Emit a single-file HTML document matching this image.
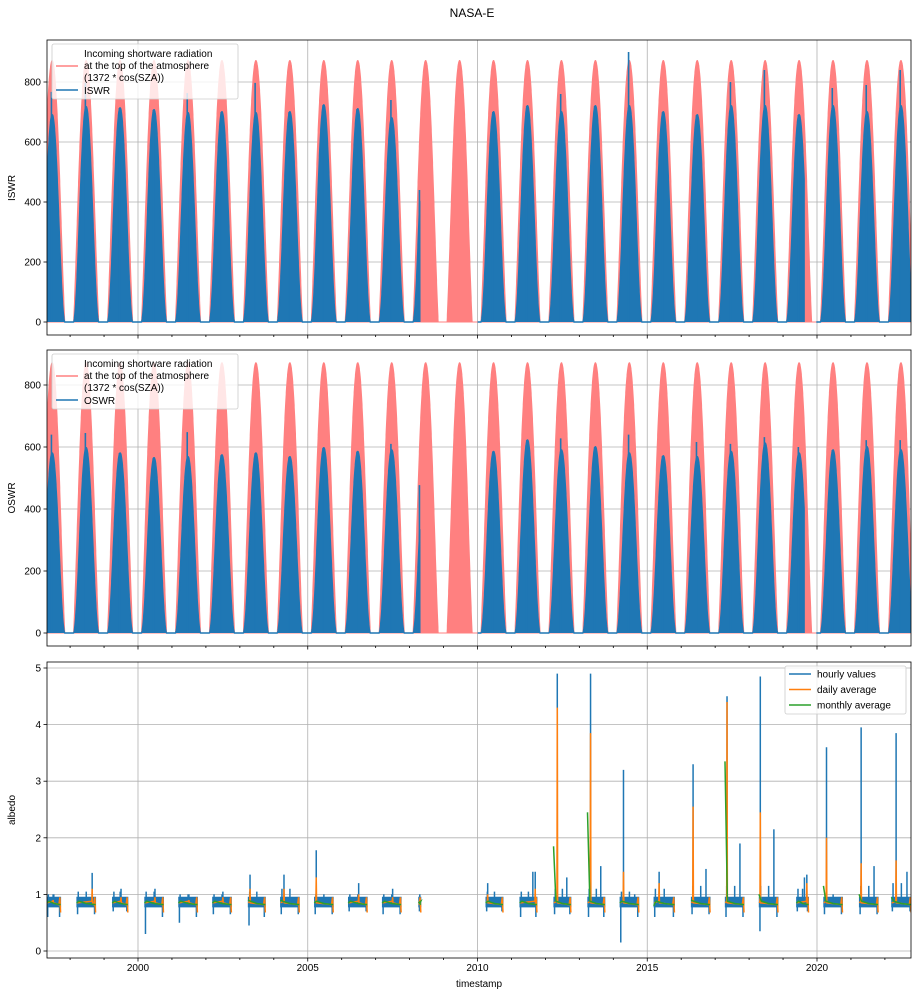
<!DOCTYPE html>
<html><head><meta charset="utf-8">
<style>
body{margin:0;background:#fff;}
svg{display:block;font-family:"Liberation Sans","DejaVu Sans",sans-serif;}
</style></head>
<body>
<svg id="fig" width="918" height="995" viewBox="0 0 918 995" xmlns="http://www.w3.org/2000/svg">
<rect width="918" height="995" fill="#fff"/>
<text x="472" y="17" font-size="12" text-anchor="middle">NASA-E</text>
<defs>
<clipPath id="c1"><rect x="47" y="40" width="864" height="295"/></clipPath>
<clipPath id="c2"><rect x="47" y="350" width="864" height="296"/></clipPath>
<clipPath id="c3"><rect x="47" y="662" width="864" height="296"/></clipPath>
</defs>
<g id="p1"></g>
<g id="p2"></g>
<g id="p3"></g>
<text x="479" y="987" font-size="10" text-anchor="middle">timestamp</text>
</svg>
<script>
// ---- data ----
const seasonYears = [1997,1998,1999,2000,2001,2002,2003,2004,2005,2006,2007,2008,2009,2010,2011,2012,2013,2014,2015,2016,2017,2018,2019,2020,2021,2022];
const iswrPeak  = [690,717,713,707,697,700,697,700,723,710,680,700,0,700,720,700,720,720,700,690,720,720,690,720,700,720];
const iswrSpike = [767,797,713,707,763,700,797,700,723,710,740,440,0,700,720,760,720,900,700,690,800,840,690,780,790,840];
const oswrPeak  = [580,597,580,565,568,574,580,568,597,585,590,580,0,585,622,590,600,580,571,568,585,612,580,590,600,590];
const oswrSpike = [640,645,580,565,648,574,580,568,597,585,610,477,0,585,622,628,600,640,571,616,610,632,600,590,622,622];
const dataGaps = [[2008.3,2010.0],[2019.62,2019.98]];
const tStart = 1997.32, tEnd = 2022.77;

const albYears   = [1997,1998,1999,2000,2001,2002,2003,2004,2005,2006,2007,2008,2010,2011,2012,2013,2014,2015,2016,2017,2018,2019,2020,2021,2022];
const albStart   = [0.32,0.2,0.25,0.2,0.2,0.2,0.25,0.2,0.2,0.2,0.2,0.27,0.25,0.25,0.25,0.25,0.2,0.2,0.3,0.3,0.3,0.4,0.2,0.25,0.2];
const albEnd     = [0.72,0.75,0.7,0.75,0.75,0.75,0.75,0.75,0.75,0.75,0.75,0.33,0.75,0.75,0.75,0.75,0.75,0.8,0.85,0.85,0.85,0.75,0.75,0.8,0.77];
const albHi      = [1.0,1.05,1.05,1.05,1.0,1.0,1.05,1.1,1.0,1.0,1.0,0.95,1.05,1.05,1.1,1.1,1.05,1.1,1.15,1.15,1.15,1.1,1.0,1.15,1.2];
const albLo      = [0.6,0.65,0.7,0.3,0.5,0.65,0.45,0.65,0.65,0.7,0.65,0.7,0.7,0.6,0.65,0.6,0.15,0.6,0.65,0.6,0.35,0.7,0.65,0.65,0.7];
const albSpike   = [1.0,1.38,1.1,1.1,1.0,1.05,1.35,1.35,1.78,1.2,1.1,1.0,1.2,1.4,4.9,4.9,3.2,1.4,3.3,4.5,4.85,1.35,3.6,3.95,3.85];
const albSpikeAt = [0.5,0.65,0.5,0.5,0.5,0.5,0.3,0.3,0.25,0.5,0.5,0.3,0.3,0.7,0.35,0.33,0.3,0.35,0.35,0.35,0.33,0.7,0.28,0.3,0.33];
const albSpike2  = [0,0,0,0,0,0,0,0,0,0,0,0,0,1.4,1.3,1.5,1.0,0,1.45,1.9,2.15,1.3,0,1.5,1.4];
const albDaily   = [0.9,1.1,0.95,0.95,0.9,0.95,1.1,1.1,1.3,1.0,0.95,0.9,1.0,1.1,4.3,3.85,1.4,1.2,2.55,4.4,2.45,1.2,2.0,1.55,1.6];
const albMonth0  = [0.85,0.85,0.85,0.85,0.85,0.85,0.9,0.9,0.85,0.85,0.85,0.85,0.85,0.85,1.85,2.45,0.85,0.8,0.9,3.35,1.0,0.85,1.15,1.0,0.95];

// ---- scales ----
const X = t => 138 + (t-2000)*33.95;
const Y1 = v => 322 - v*0.3;
const Y2 = v => 633 - v*0.31;
const Y3 = v => 951 - v*56.6;
const NS = 'http://www.w3.org/2000/svg';
function mk(tag, attrs, parent){ const e=document.createElementNS(NS,tag); for(const k in attrs) e.setAttribute(k,attrs[k]); parent.appendChild(e); return e; }

function toa(t){
  const d=(t-Math.floor(t))*365;
  const decl=-23.44*Math.cos(2*Math.PI*(d+10)/365);
  const el=(16+decl)*Math.PI/180;
  return el>0?1372*Math.sin(el):0;
}
function inGap(t){ return dataGaps.some(g=>t>g[0]&&t<g[1]); }

function axes(g, top, bot, Yf, ticks, clip, ylabel, ylabelY, showX){
  [2000,2005,2010,2015,2020].forEach(yr=>{
    const l=mk('line',{x1:X(yr),x2:X(yr),y1:top,y2:bot,stroke:'#b0b0b0','stroke-width':0.8},g);
    
    
  });
  ticks.forEach(v=>{
    const y=Yf(v);
    const l=mk('line',{x1:47,x2:911,y1:y,y2:y,stroke:'#b0b0b0','stroke-width':0.8},g);
    
    
    mk('line',{x1:43.5,x2:47,y1:y,y2:y,stroke:'#000','stroke-width':0.8},g);
    const tx=mk('text',{x:41,y:y+3.5,'font-size':10,'text-anchor':'end'},g);
    tx.textContent=v;
    
    
  });
  for(let yr=1998; yr<=2022; yr++){
    const major=yr%5===0;
    mk('line',{x1:X(yr),x2:X(yr),y1:bot,y2:bot+(major?3.5:2),stroke:'#000','stroke-width':0.8},g);
    if(major&&showX){
      const tx=mk('text',{x:X(yr),y:bot+13,'font-size':10,'text-anchor':'middle'},g);
      tx.textContent=yr;
      
      
    }
  }
  const yl=mk('text',{x:0,y:0,'font-size':10,'text-anchor':'middle',transform:`translate(15,${ylabelY}) rotate(-90)`},g);
  yl.textContent=ylabel;
  
  
}
function frame(g, top, bot){
  const r=mk('rect',{x:47,y:top,width:864,height:bot-top,fill:'none',stroke:'#000','stroke-width':0.8},g);
  
  
}

function radPanel(g, top, bot, Yf, peaks, spikes, label, clipId, ylabelY, showX){
  axes(g, top, bot, Yf, [0,200,400,600,800], clipId, label, ylabelY, showX);
  const cg=mk('g',{'clip-path':`url(#${clipId})`},g);
  let d=`M${X(tStart)},${Yf(0)}`;
  for(let t=tStart;t<=tEnd;t+=1/365) d+=`L${X(t).toFixed(1)},${Yf(toa(t)).toFixed(1)}`;
  d+=`L${X(tEnd)},${Yf(0)}Z`;
  const red=mk('path',{d:d,fill:'#ff8080',stroke:'#ff8080','stroke-width':1},cg);
  
  
  let bd='', open=false;
  for(let t=tStart;t<=tEnd;t+=1/365){
    if(inGap(t)){ if(open){bd+=`L${X(t).toFixed(1)},${Yf(0)}`; open=false;} continue; }
    const yi=seasonYears.indexOf(Math.floor(t));
    const pk=yi>=0?peaks[yi]:0;
    const v=pk*Math.pow(toa(t)/871,1.6);
    const p=`${X(t).toFixed(1)},${Yf(v).toFixed(1)}`;
    if(!open){ bd+=`M${X(t).toFixed(1)},${Yf(0)}L${p}`; open=true; } else bd+=`L${p}`;
  }
  if(open) bd+=`L${X(tEnd)},${Yf(0)}`;
  const blue=mk('path',{d:bd,fill:'#1f77b4',stroke:'#1f77b4','stroke-width':1.5,'stroke-linejoin':'round'},cg);
  
  
  seasonYears.forEach((yr,i)=>{
    if(spikes[i]<=0) return;
    let t=yr+0.45; if(yr===2008) t=2008.29;
    if(inGap(t)) return;
    const s=mk('line',{x1:X(t),x2:X(t),y1:Yf(0),y2:Yf(spikes[i]),stroke:'#1f77b4','stroke-width':1.6},cg);
    
    
  });
  frame(g, top, bot);
  const lg=mk('g',{},g);
  
  
  mk('rect',{x:52,y:top+4,width:186,height:55,rx:2,fill:'#fff','fill-opacity':0.8,stroke:'#ccc','stroke-width':0.8},lg);
  mk('line',{x1:56,x2:78,y1:top+26,y2:top+26,stroke:'#ff8080','stroke-width':1.5},lg);
  mk('line',{x1:56,x2:78,y1:top+50,y2:top+50,stroke:'#1f77b4','stroke-width':1.5},lg);
  ['Incoming shortware radiation','at the top of the atmosphere','(1372 * cos(SZA))',label].forEach((s,i)=>{
    const tx=mk('text',{x:84,y:top+17+i*12+(i===3?1:0),'font-size':10},lg);
    tx.textContent=s;
    
    
  });
}

radPanel(document.getElementById('p1'),40,335,Y1,iswrPeak,iswrSpike,'ISWR','c1',188,false);
radPanel(document.getElementById('p2'),350,646,Y2,oswrPeak,oswrSpike,'OSWR','c2',498,false);

(function(){
  const g=document.getElementById('p3');
  axes(g,662,958,Y3,[0,1,2,3,4,5],'c3','albedo',810,true);
  const cg=mk('g',{'clip-path':'url(#c3)'},g);
  albYears.forEach((yr,i)=>{
    const a=yr+albStart[i], b=yr+albEnd[i], sp=yr+albSpikeAt[i];
    const band=mk('path',{d:`M${X(a)},${Y3(0.95)}L${X(b)},${Y3(0.95)}L${X(b)},${Y3(0.78)}L${X(a)},${Y3(0.78)}Z`,fill:'#1f77b4',stroke:'#1f77b4','stroke-width':1},cg);
    
    
    const mid=(a+b)/2;
    const low=mk('path',{d:`M${X(a+0.02)},${Y3(0.8)}L${X(a+0.02)},${Y3(albLo[i])}M${X(b-0.03)},${Y3(0.8)}L${X(b-0.03)},${Y3(Math.max(albLo[i],0.6))}M${X(sp)},${Y3(0.8)}L${X(sp)},${Y3(albSpike[i])}M${X(mid)},${Y3(0.9)}L${X(mid)},${Y3(albHi[i])}M${X(a+0.04)},${Y3(0.9)}L${X(a+0.04)},${Y3(albHi[i])}`,stroke:'#1f77b4','stroke-width':1.5,fill:'none'},cg);
    
    
    if(albSpike2[i]>0){
      const t2=yr+albEnd[i]-0.12;
      const s2=mk('line',{x1:X(t2),x2:X(t2),y1:Y3(0.8),y2:Y3(albSpike2[i]),stroke:'#1f77b4','stroke-width':1.5},cg);
      
      
    }
    const od=mk('path',{d:`M${X(a)},${Y3(0.85)}L${X(sp-0.01)},${Y3(0.88)}L${X(sp)},${Y3(albDaily[i])}L${X(sp+0.01)},${Y3(0.85)}L${X(b-0.05)},${Y3(0.82)}L${X(b-0.02)},${Y3(0.95)}L${X(b)},${Y3(0.68)}`,stroke:'#ff7f0e','stroke-width':1.5,fill:'none'},cg);
    
    
    const gd=mk('path',{d:`M${X(a-0.01)},${Y3(albMonth0[i])}L${X(a+0.06)},${Y3(0.88)}L${X((a+b)/2)},${Y3(0.84)}L${X(b)},${Y3(0.82)}`,stroke:'#2ca02c','stroke-width':1.5,fill:'none'},cg);
    
    
  });
  frame(g,662,958);
  const lg=mk('g',{},g);
  
  
  mk('rect',{x:785,y:666,width:121,height:48,rx:2,fill:'#fff','fill-opacity':0.8,stroke:'#ccc','stroke-width':0.8},lg);
  [['hourly values','#1f77b4'],['daily average','#ff7f0e'],['monthly average','#2ca02c']].forEach((e,i)=>{
    const y=674+i*15.5;
    mk('line',{x1:789,x2:811,y1:y,y2:y,stroke:e[1],'stroke-width':1.5},lg);
    const tx=mk('text',{x:817,y:y+3.5,'font-size':10},lg);
    tx.textContent=e[0];
    
    
  });
})();
</script>
</body></html>
